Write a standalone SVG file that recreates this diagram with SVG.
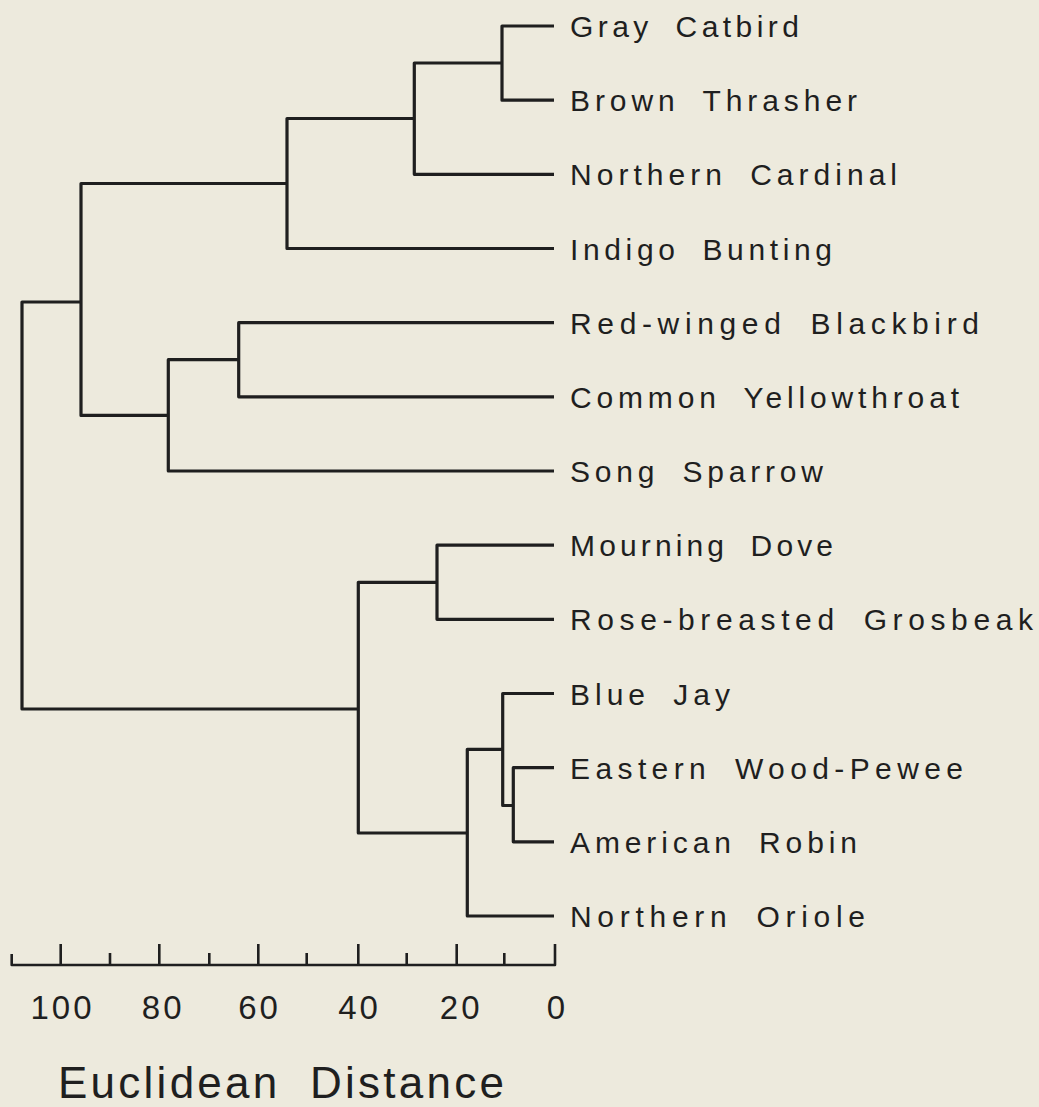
<svg xmlns="http://www.w3.org/2000/svg" width="1039" height="1107" viewBox="0 0 1039 1107">
  <style>
    .bg { fill: #edeadd; }
    .br { fill: none; stroke: #1f1f1f; stroke-width: 3.2; stroke-linejoin: round; stroke-linecap: butt; }
    .ax { fill: none; stroke: #1f1f1f; stroke-width: 2.6; stroke-linejoin: round; }
    .lbl { font-family: "Liberation Sans", Arial, sans-serif; font-size: 30px; fill: #1f1f1f; word-spacing: 10px; }
    .num { font-family: "Liberation Sans", Arial, sans-serif; font-size: 33px; fill: #1f1f1f; text-anchor: middle; letter-spacing: 3px; }
    .ttl { font-family: "Liberation Sans", Arial, sans-serif; font-size: 44px; fill: #1f1f1f; word-spacing: 14px; }
  </style>
  <rect class="bg" x="0" y="0" width="1039" height="1107"/>

  <g id="connectors">
    <!-- Gray Catbird + Brown Thrasher -->
    <path class="br" d="M554,26 H502 V100.2 H554"/>
    <!-- + Northern Cardinal -->
    <path class="br" d="M502,63 H414.3 V174.3 H554"/>
    <!-- + Indigo Bunting -->
    <path class="br" d="M414.3,118.5 H287 V248.5 H554"/>
    <!-- Red-winged Blackbird + Common Yellowthroat -->
    <path class="br" d="M554,322.7 H238.7 V396.8 H554"/>
    <!-- + Song Sparrow -->
    <path class="br" d="M238.7,359.7 H168.3 V471 H554"/>
    <!-- upper group -->
    <path class="br" d="M287,183.5 H81 V415.4 H168.3"/>
    <!-- Mourning Dove + Rose-breasted Grosbeak -->
    <path class="br" d="M554,545.2 H437 V619.3 H554"/>
    <!-- Eastern Wood-Pewee + American Robin -->
    <path class="br" d="M554,767.7 H513.3 V841.8 H554"/>
    <!-- Blue Jay + (EWP, AR) -->
    <path class="br" d="M554,693.5 H502.7 V805.5 H513.3"/>
    <!-- + Northern Oriole -->
    <path class="br" d="M502.7,749.3 H467.3 V916 H554"/>
    <!-- lower group -->
    <path class="br" d="M437,582.3 H358.3 V833 H467.3"/>
    <!-- root -->
    <path class="br" d="M81,302 H22 V709 H358.3"/>
  </g>

  <g id="n-gray-catbird"><text class="lbl" x="570" y="37" textLength="229" lengthAdjust="spacing">Gray Catbird</text></g>
  <g id="n-brown-thrasher"><text class="lbl" x="570" y="111.2" textLength="287" lengthAdjust="spacing">Brown Thrasher</text></g>
  <g id="n-northern-cardinal"><text class="lbl" x="570" y="185.3" textLength="327" lengthAdjust="spacing">Northern Cardinal</text></g>
  <g id="n-indigo-bunting"><text class="lbl" x="570" y="259.5" textLength="262" lengthAdjust="spacing">Indigo Bunting</text></g>
  <g id="n-red-winged-blackbird"><text class="lbl" x="570" y="333.7" textLength="409" lengthAdjust="spacing">Red-winged Blackbird</text></g>
  <g id="n-common-yellowthroat"><text class="lbl" x="570" y="407.8" textLength="389" lengthAdjust="spacing">Common Yellowthroat</text></g>
  <g id="n-song-sparrow"><text class="lbl" x="570" y="482" textLength="253" lengthAdjust="spacing">Song Sparrow</text></g>
  <g id="n-mourning-dove"><text class="lbl" x="570" y="556.2" textLength="263" lengthAdjust="spacing">Mourning Dove</text></g>
  <g id="n-rose-breasted-grosbeak"><text class="lbl" x="570" y="630.3" textLength="463" lengthAdjust="spacing">Rose-breasted Grosbeak</text></g>
  <g id="n-blue-jay"><text class="lbl" x="570" y="704.5" textLength="160" lengthAdjust="spacing">Blue Jay</text></g>
  <g id="n-eastern-wood-pewee"><text class="lbl" x="570" y="778.7" textLength="393" lengthAdjust="spacing">Eastern Wood-Pewee</text></g>
  <g id="n-american-robin"><text class="lbl" x="570" y="852.8" textLength="287" lengthAdjust="spacing">American Robin</text></g>
  <g id="n-northern-oriole"><text class="lbl" x="570" y="927" textLength="295" lengthAdjust="spacing">Northern Oriole</text></g>

  <g id="axis">
    <path class="ax" d="M11.7,954 V965 H555 V944"/>
    <path class="ax" d="M60.7,944 V965 M159.3,944 V965 M258.3,944 V965 M358.3,944 V965 M456.7,944 V965"/>
    <path class="ax" d="M110,953 V965 M209.3,953 V965 M306.7,953 V965 M406.7,953 V965 M504.3,953 V965"/>
    <text class="num" x="62.5" y="1019">100</text>
    <text class="num" x="163.2" y="1019">80</text>
    <text class="num" x="259.5" y="1019">60</text>
    <text class="num" x="359.5" y="1019">40</text>
    <text class="num" x="461.2" y="1019">20</text>
    <text class="num" x="557.5" y="1019">0</text>
  </g>

  <g id="axis-title"><text class="ttl" x="58" y="1098" textLength="446" lengthAdjust="spacing">Euclidean Distance</text></g>
</svg>
